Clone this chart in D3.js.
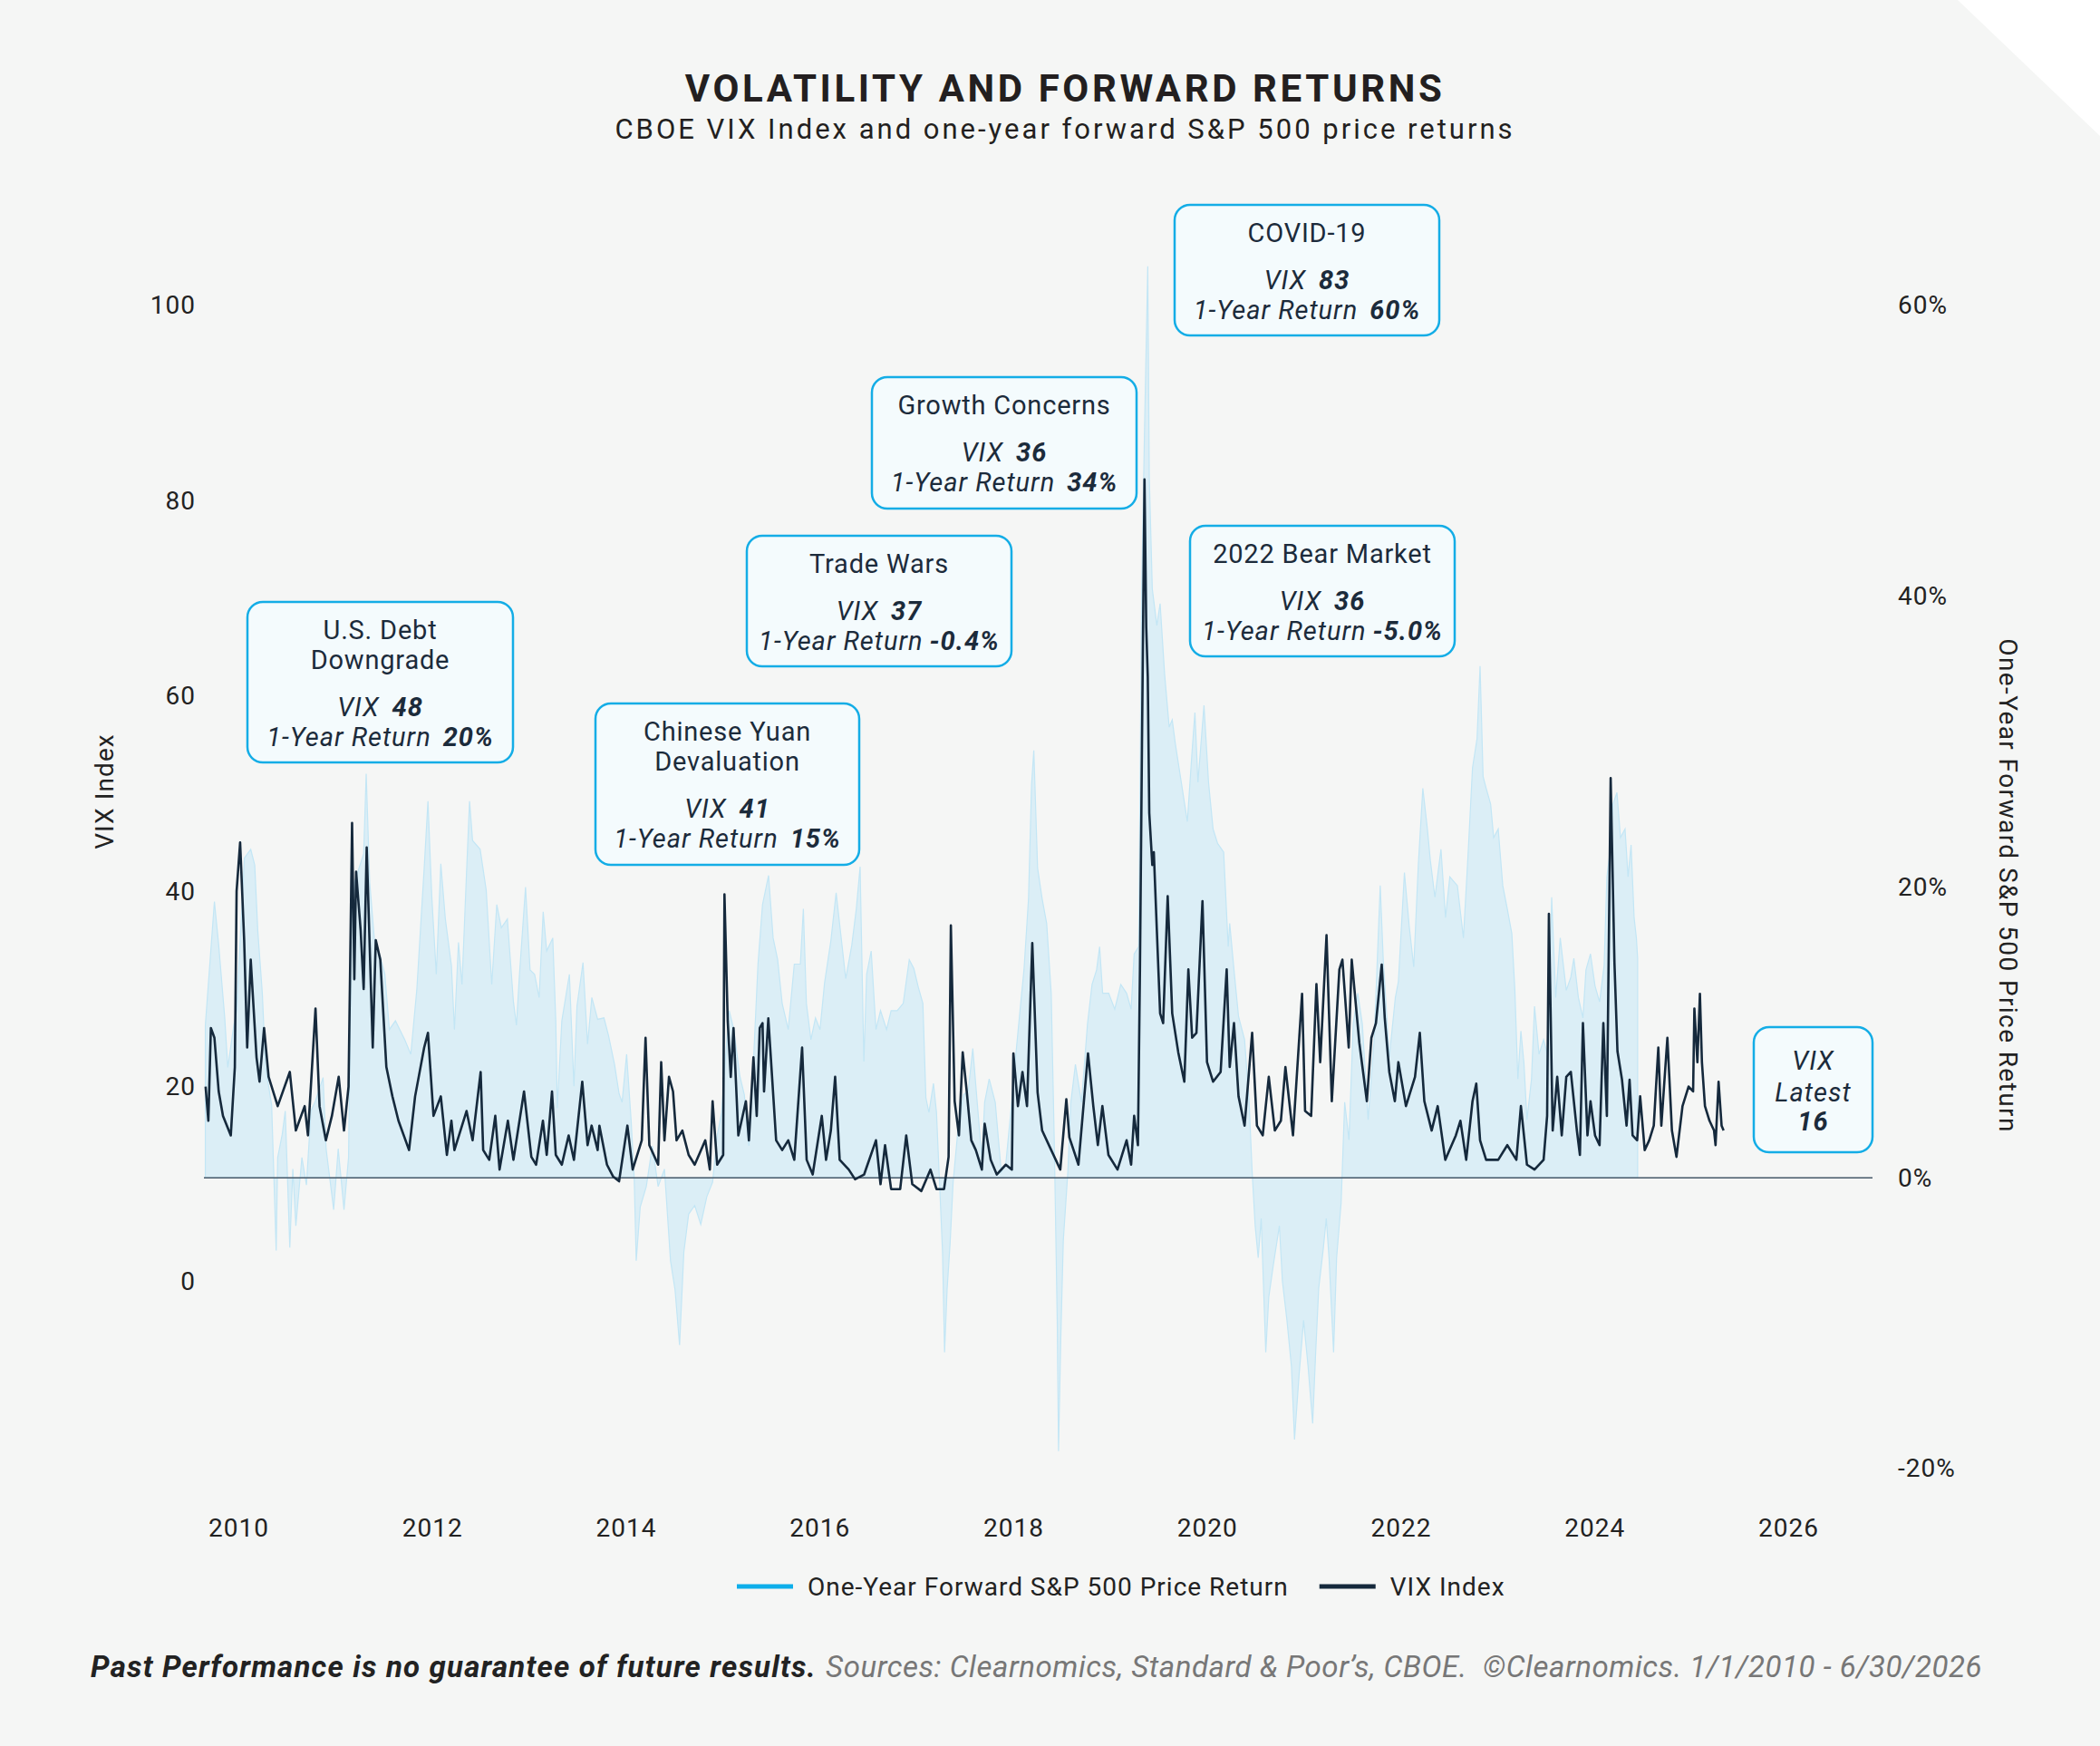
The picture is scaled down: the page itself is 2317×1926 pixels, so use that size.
<!DOCTYPE html>
<html>
<head>
<meta charset="utf-8">
<script src="https://cdn.jsdelivr.net/npm/d3@7"></script>
<style>
  html, body { margin: 0; padding: 0; background: #f5f6f5; }
  svg { display: block; font-family: Roboto, "Noto Sans", sans-serif; }
</style>
</head>
<body>
<div id="chart"></div>
<script>
// ---- data ----
const vixPoints = [
  ["2010-01-04",20.0],["2010-01-15",16.5],["2010-01-25",26.0],["2010-02-08",25.0],["2010-02-25",19.5],["2010-03-14",17.0],["2010-04-14",15.0],["2010-04-30",22.0],["2010-05-07",40.0],["2010-05-21",45.0],["2010-06-06",35.0],["2010-06-18",24.0],["2010-07-02",33.0],["2010-07-25",23.0],["2010-08-06",20.5],["2010-08-24",26.0],["2010-09-11",21.0],["2010-10-17",18.0],["2010-12-04",21.5],["2010-12-28",15.5],
  ["2011-02-01",18.0],["2011-02-14",15.0],["2011-03-16",28.0],["2011-04-01",18.0],["2011-04-26",14.5],["2011-05-20",17.0],["2011-06-16",21.0],["2011-07-07",15.5],["2011-07-25",20.0],["2011-08-08",47.0],["2011-08-17",31.0],["2011-08-24",42.0],["2011-09-11",36.0],["2011-09-23",30.0],["2011-10-05",44.5],["2011-10-29",24.0],["2011-11-10",35.0],["2011-11-28",33.0],["2011-12-22",22.0],
  ["2012-01-15",19.0],["2012-02-08",16.5],["2012-03-21",13.5],["2012-04-14",19.0],["2012-05-20",24.0],["2012-06-04",25.5],["2012-06-26",17.0],["2012-07-25",19.0],["2012-08-18",13.0],["2012-09-05",16.5],["2012-09-17",13.5],["2012-11-04",17.5],["2012-11-28",14.5],["2012-12-30",21.5],
  ["2013-01-09",13.5],["2013-02-02",12.5],["2013-02-26",17.0],["2013-03-15",11.5],["2013-04-17",16.5],["2013-05-09",12.5],["2013-06-20",19.5],["2013-07-19",12.8],["2013-08-07",12.0],["2013-09-03",16.5],["2013-09-18",13.0],["2013-10-09",19.5],["2013-10-24",13.0],["2013-11-17",12.0],["2013-12-14",15.0],
  ["2014-01-04",12.5],["2014-02-06",20.5],["2014-02-27",14.0],["2014-03-15",16.0],["2014-04-08",13.5],["2014-04-15",16.0],["2014-05-15",12.0],["2014-06-08",10.8],["2014-07-02",10.3],["2014-08-04",16.0],["2014-08-25",11.5],["2014-09-30",14.5],["2014-10-15",25.0],["2014-10-30",14.0],["2014-12-04",12.0],["2014-12-16",22.5],["2014-12-29",14.5],
  ["2015-01-16",21.0],["2015-02-01",19.5],["2015-02-15",14.5],["2015-03-10",15.5],["2015-04-04",13.0],["2015-04-28",12.0],["2015-06-09",14.5],["2015-06-27",11.5],["2015-07-08",18.5],["2015-07-26",12.0],["2015-08-19",13.0],["2015-08-24",39.7],["2015-09-06",26.7],["2015-09-18",21.0],["2015-09-29",26.0],["2015-10-18",15.0],["2015-11-17",18.5],["2015-11-29",14.5],["2015-12-17",23.0],["2015-12-30",17.0],
  ["2016-01-11",26.0],["2016-01-22",26.5],["2016-01-28",19.5],["2016-02-14",27.0],["2016-03-16",14.5],["2016-04-09",13.5],["2016-05-03",14.5],["2016-05-27",12.5],["2016-06-27",24.0],["2016-07-15",12.5],["2016-08-08",11.0],["2016-09-13",17.0],["2016-09-30",12.5],["2016-10-19",15.5],["2016-11-05",21.0],["2016-11-23",12.5],["2016-12-29",11.5],
  ["2017-01-23",10.5],["2017-02-28",11.0],["2017-04-16",14.5],["2017-05-04",10.0],["2017-05-22",14.0],["2017-06-15",9.5],["2017-07-21",9.5],["2017-08-14",15.0],["2017-09-07",10.0],["2017-10-13",9.3],["2017-11-18",11.5],["2017-12-12",9.5],
  ["2018-01-11",9.5],["2018-01-29",12.8],["2018-02-07",36.5],["2018-02-22",18.5],["2018-03-11",15.0],["2018-03-26",23.5],["2018-04-11",19.5],["2018-04-29",14.5],["2018-05-17",13.5],["2018-06-10",11.5],["2018-06-21",16.2],["2018-07-15",12.5],["2018-08-08",11.0],["2018-09-13",12.0],["2018-10-07",11.5],["2018-10-13",23.4],["2018-10-31",18.0],["2018-11-18",21.5],["2018-12-06",18.0],["2018-12-27",34.7],
  ["2019-01-17",19.4],["2019-02-04",15.5],["2019-03-12",13.5],["2019-04-17",11.5],["2019-05-11",18.7],["2019-05-23",14.8],["2019-06-28",12.0],["2019-08-05",23.4],["2019-08-26",18.0],["2019-09-13",14.0],["2019-10-01",18.0],["2019-10-25",13.0],["2019-11-30",11.5],
  ["2020-01-05",14.5],["2020-01-23",12.0],["2020-02-04",17.0],["2020-02-19",14.0],["2020-02-27",32.0],["2020-03-06",55.0],["2020-03-16",82.2],["2020-03-23",67.0],["2020-03-29",62.0],["2020-04-04",48.0],["2020-04-16",42.7],["2020-04-22",44.0],["2020-05-04",36.0],["2020-05-17",27.5],["2020-05-29",26.5],["2020-06-16",39.5],["2020-07-04",27.5],["2020-07-28",23.5],["2020-08-21",20.5],["2020-09-06",32.0],["2020-09-21",25.0],["2020-10-08",25.5],["2020-11-01",39.0],["2020-11-19",22.5],["2020-12-13",20.5],
  ["2021-01-12",21.5],["2021-02-05",32.0],["2021-02-17",22.0],["2021-03-06",26.5],["2021-03-24",19.0],["2021-04-17",16.0],["2021-05-17",25.5],["2021-06-05",16.0],["2021-06-28",15.0],["2021-07-22",21.0],["2021-08-15",15.5],["2021-09-08",16.5],["2021-09-26",22.0],["2021-10-26",15.0],["2021-12-01",29.5],["2021-12-13",17.5],
  ["2022-01-06",17.0],["2022-01-27",30.5],["2022-02-11",22.5],["2022-03-08",35.5],["2022-03-29",18.5],["2022-04-28",32.0],["2022-05-10",33.0],["2022-06-04",24.0],["2022-06-16",33.0],["2022-07-16",24.5],["2022-08-15",18.5],["2022-09-02",25.0],["2022-09-20",26.5],["2022-10-13",32.5],["2022-10-25",27.0],["2022-11-12",21.5],["2022-12-04",18.5],["2022-12-18",22.5],
  ["2023-01-17",18.0],["2023-02-22",21.0],["2023-03-13",25.5],["2023-03-31",18.5],["2023-04-29",15.5],["2023-05-23",18.0],["2023-06-22",12.5],["2023-08-03",15.0],["2023-08-21",16.5],["2023-09-13",12.5],["2023-10-08",18.5],["2023-10-23",20.3],["2023-11-07",14.5],["2023-12-01",12.5],
  ["2024-01-18",12.5],["2024-02-23",14.0],["2024-03-30",12.5],["2024-04-17",18.0],["2024-05-11",12.0],["2024-06-10",11.5],["2024-07-16",12.5],["2024-07-30",17.0],["2024-08-06",37.7],["2024-08-21",15.5],["2024-09-08",21.0],["2024-09-26",15.0],["2024-10-14",21.0],["2024-11-01",21.5],["2024-11-25",15.5],["2024-12-07",13.0],["2024-12-19",26.5],
  ["2025-01-06",15.0],["2025-01-18",18.5],["2025-02-05",15.0],["2025-02-23",14.0],["2025-03-10",26.5],["2025-03-24",17.0],["2025-04-08",51.6],["2025-04-23",32.7],["2025-05-05",23.6],["2025-05-23",20.7],["2025-06-10",16.0],["2025-06-22",20.7],["2025-07-04",15.0],["2025-07-22",14.5],["2025-08-03",19.0],["2025-08-21",13.5],["2025-09-08",14.5],["2025-09-26",16.0],["2025-10-14",24.0],["2025-10-26",16.0],["2025-11-19",25.0],["2025-12-07",15.5],["2025-12-25",12.8],
  ["2026-01-18",18.0],["2026-02-11",20.0],["2026-03-01",19.5],["2026-03-06",28.0],["2026-03-18",22.5],["2026-03-28",29.5],["2026-04-05",22.5],["2026-04-17",18.0],["2026-05-05",16.5],["2026-05-23",15.5],["2026-05-29",14.0],["2026-06-10",20.5],["2026-06-22",16.0],["2026-06-30",15.5]
];

const returnPoints = [
  ["2010-01-03",10.5],["2010-02-08",19.0],["2010-02-25",16.0],["2010-03-21",11.0],["2010-04-02",7.6],["2010-04-26",10.5],["2010-05-07",11.5],["2010-06-07",22.0],["2010-07-02",22.6],["2010-07-18",21.5],["2010-07-30",17.0],["2010-08-17",12.7],["2010-08-30",7.6],["2010-09-23",5.0],["2010-10-11",-5.0],["2010-10-17",1.4],["2010-11-04",3.0],["2010-11-16",4.6],["2010-12-04",-4.8],["2010-12-16",0.6],["2010-12-28",-3.3],
  ["2011-01-21",1.4],["2011-02-08",-0.5],["2011-02-26",4.6],["2011-03-16",5.3],["2011-04-15",6.9],["2011-04-27",2.0],["2011-05-27",-2.2],["2011-06-14",2.0],["2011-07-07",-2.2],["2011-07-25",1.4],["2011-08-06",17.8],["2011-08-17",20.3],["2011-09-23",22.3],["2011-10-03",27.8],["2011-10-17",20.3],["2011-11-04",16.5],["2011-11-28",15.2],["2011-12-16",14.0],
  ["2012-01-03",10.2],["2012-01-27",10.8],["2012-03-04",9.5],["2012-03-28",8.5],["2012-04-21",13.0],["2012-05-20",21.3],["2012-06-04",25.9],["2012-06-19",19.4],["2012-07-07",14.0],["2012-07-25",21.6],["2012-08-12",17.8],["2012-09-05",14.6],["2012-09-17",10.2],["2012-10-03",16.2],["2012-10-17",13.3],["2012-11-04",21.0],["2012-11-16",25.9],["2012-11-28",23.2],["2012-12-28",22.6],
  ["2013-01-21",19.8],["2013-02-12",13.3],["2013-03-04",18.8],["2013-03-22",17.2],["2013-04-15",17.8],["2013-05-09",12.1],["2013-05-21",10.5],["2013-06-02",14.0],["2013-06-26",20.0],["2013-07-14",14.3],["2013-08-01",14.0],["2013-08-19",12.4],["2013-09-04",18.3],["2013-09-18",15.6],["2013-10-12",16.5],["2013-10-24",10.8],["2013-10-30",4.8],["2013-11-17",10.8],["2013-12-17",14.0],
  ["2014-01-04",6.3],["2014-01-16",11.8],["2014-02-09",14.8],["2014-02-27",9.2],["2014-03-16",12.4],["2014-04-08",10.9],["2014-05-03",11.0],["2014-05-21",9.8],["2014-06-14",7.8],["2014-07-02",5.8],["2014-07-14",5.2],["2014-08-01",8.5],["2014-08-19",3.9],["2014-08-31",0.0],["2014-09-08",-5.7],["2014-09-24",-2.0],["2014-10-18",-0.6],["2014-11-11",2.2],["2014-12-04",-0.6],["2014-12-29",0.6],
  ["2015-01-22",-5.7],["2015-02-09",-7.7],["2015-02-27",-11.5],["2015-03-16",-5.1],["2015-04-04",-2.5],["2015-04-28",-1.9],["2015-05-22",-3.2],["2015-06-15",-1.3],["2015-07-08",-0.3],["2015-07-26",2.9],["2015-08-13",4.5],["2015-08-25",7.6],["2015-09-12",11.5],["2015-09-30",10.2],["2015-10-24",7.0],["2015-11-11",5.7],["2015-11-29",2.2],["2015-12-17",8.0],
  ["2016-01-04",14.7],["2016-01-22",18.8],["2016-02-15",20.8],["2016-03-04",16.5],["2016-03-22",15.0],["2016-04-09",12.0],["2016-05-03",10.2],["2016-05-27",14.7],["2016-06-20",14.7],["2016-07-02",18.5],["2016-07-14",12.0],["2016-08-01",9.5],["2016-08-19",11.0],["2016-09-06",10.2],["2016-09-24",13.4],["2016-10-19",16.3],["2016-11-09",19.6],["2016-11-29",16.5],["2016-12-17",13.7],
  ["2017-01-10",16.0],["2017-01-28",18.5],["2017-02-12",21.4],["2017-02-27",8.0],["2017-03-10",14.0],["2017-03-28",15.6],["2017-04-16",10.2],["2017-05-04",11.5],["2017-05-28",10.2],["2017-06-15",11.5],["2017-07-09",11.5],["2017-08-02",12.0],["2017-08-26",15.0],["2017-09-13",14.4],["2017-10-01",13.1],["2017-10-19",12.0],["2017-10-31",5.5],["2017-11-12",4.5],["2017-11-30",6.5],["2017-12-12",4.5],["2017-12-24",-0.3],
  ["2018-01-05",-5.1],["2018-01-13",-12.0],["2018-01-23",-7.7],["2018-02-04",-4.5],["2018-02-16",-0.3],["2018-03-05",2.9],["2018-03-29",5.7],["2018-04-17",6.0],["2018-05-05",8.9],["2018-05-23",5.1],["2018-06-10",1.3],["2018-06-21",5.2],["2018-07-09",6.8],["2018-08-02",5.2],["2018-08-26",0.4],["2018-09-13",1.0],["2018-10-01",4.2],["2018-10-19",7.8],["2018-11-06",11.1],["2018-11-24",14.3],["2018-12-12",19.2],["2018-12-24",27.0],
  ["2019-01-02",29.4],["2019-01-17",21.3],["2019-02-04",19.2],["2019-02-22",17.5],["2019-03-12",12.7],["2019-03-24",2.6],["2019-04-05",-9.9],["2019-04-10",-18.8],["2019-04-19",-11.0],["2019-04-29",-4.3],["2019-05-17",0.4],["2019-05-29",5.2],["2019-06-16",7.8],["2019-07-10",5.2],["2019-08-03",10.6],["2019-08-21",13.3],["2019-09-08",14.3],["2019-09-20",15.9],["2019-10-02",12.7],["2019-10-26",12.7],["2019-11-19",11.6],["2019-12-13",13.3],
  ["2020-01-05",12.7],["2020-01-23",11.6],["2020-02-04",15.4],["2020-02-22",15.9],["2020-03-05",40.5],["2020-03-16",51.3],["2020-03-29",62.7],["2020-04-04",48.2],["2020-04-16",40.5],["2020-05-04",38.0],["2020-05-17",39.5],["2020-06-04",34.6],["2020-06-22",31.0],["2020-07-04",31.5],["2020-07-16",29.9],["2020-08-09",27.2],["2020-09-02",24.5],["2020-09-21",29.4],["2020-10-02",32.0],["2020-10-14",27.2],["2020-11-07",32.5],["2020-11-25",27.2],["2020-12-13",24.0],["2020-12-31",23.0],
  ["2021-01-24",22.4],["2021-02-11",15.9],["2021-02-17",17.5],["2021-03-06",14.3],["2021-03-24",11.1],["2021-04-17",9.5],["2021-05-05",5.2],["2021-05-17",0.4],["2021-05-29",-3.3],["2021-06-10",-5.5],["2021-06-22",-2.8],["2021-07-10",-12.0],["2021-07-22",-8.2],["2021-08-09",-6.0],["2021-09-02",-3.3],["2021-09-14",-7.1],["2021-10-02",-9.8],["2021-10-20",-13.0],["2021-11-01",-18.0],["2021-11-19",-13.6],["2021-12-07",-9.8],["2021-12-25",-13.0],
  ["2022-01-12",-16.9],["2022-01-24",-12.0],["2022-02-05",-7.6],["2022-02-23",-4.9],["2022-03-07",-2.8],["2022-03-18",-5.5],["2022-04-05",-12.0],["2022-04-17",-5.5],["2022-05-05",-1.7],["2022-05-19",5.2],["2022-06-05",2.6],["2022-06-22",10.6],["2022-07-10",12.7],["2022-07-28",10.6],["2022-08-20",4.0],["2022-09-13",9.5],["2022-10-07",20.1],["2022-10-19",15.0],["2022-11-12",8.3],["2022-12-06",12.4],["2022-12-18",13.5],
  ["2023-01-11",21.0],["2023-01-30",17.3],["2023-02-17",14.5],["2023-03-07",21.5],["2023-03-25",26.8],["2023-04-12",24.0],["2023-04-24",21.8],["2023-05-12",19.3],["2023-06-05",22.6],["2023-06-23",17.9],["2023-07-10",20.7],["2023-08-09",20.1],["2023-09-02",16.5],["2023-09-20",22.1],["2023-10-08",28.2],["2023-10-26",30.2],["2023-11-07",35.2],["2023-11-19",27.6],["2023-12-01",26.8],["2023-12-19",25.7],["2023-12-31",23.4],
  ["2024-01-18",24.0],["2024-02-05",20.1],["2024-02-23",18.5],["2024-03-12",16.8],["2024-03-24",12.9],["2024-04-05",6.8],["2024-04-17",10.1],["2024-04-29",7.9],["2024-05-11",4.0],["2024-05-29",6.8],["2024-06-10",11.8],["2024-06-28",8.5],["2024-07-16",9.5],["2024-08-03",8.3],["2024-08-17",19.3],["2024-09-02",12.4],["2024-09-20",16.5],["2024-10-14",12.9],["2024-11-01",13.8],["2024-11-13",15.1],["2024-12-01",12.4],["2024-12-19",11.0],["2024-12-31",14.3],
  ["2025-01-18",15.4],["2025-02-05",13.2],["2025-02-23",12.1],["2025-03-13",14.6],["2025-03-24",20.7],["2025-04-05",22.4],["2025-04-17",25.7],["2025-05-03",26.5],["2025-05-17",23.4],["2025-06-04",24.0],["2025-06-16",20.7],["2025-06-28",22.9],["2025-07-10",17.9],["2025-07-19",16.5],["2025-07-24",15.1]
];

const vixTicks = [0, 20, 40, 60, 80, 100];
const returnTicks = [-20, 0, 20, 40, 60];
const yearLabels = ["2010", "2012", "2014", "2016", "2018", "2020", "2022", "2024", "2026"];

const events = [
  { title: ["U.S. Debt", "Downgrade"], vix: "48", ret: "20%" },
  { title: ["Chinese Yuan", "Devaluation"], vix: "41", ret: "15%" },
  { title: ["Trade Wars"], vix: "37", ret: "-0.4%" },
  { title: ["Growth Concerns"], vix: "36", ret: "34%" },
  { title: ["COVID-19"], vix: "83", ret: "60%" },
  { title: ["2022 Bear Market"], vix: "36", ret: "-5.0%" }
];
const latestVix = "16";

// ---- layout ----
const W = 2317, H = 1926;
// annotation boxes: [x, y, w, h]
const eventBoxes = [
  [273, 664, 293, 177],
  [657, 776, 291, 178],
  [824, 591, 292, 144],
  [962, 416, 292, 145],
  [1296, 226, 292, 144],
  [1313, 580, 292, 144]
];
const latestBox = [1935, 1133, 131, 138];

const navy = "#15293c";
const ink = "#222222";
const boxInk = "#1c2b3b";

const parse = d3.timeParse("%Y-%m-%d");
const vix = vixPoints.map(d => ({ date: parse(d[0]), value: d[1] })).sort((a, b) => a.date - b.date);
const rets = returnPoints.map(d => ({ date: parse(d[0]), value: d[1] })).sort((a, b) => a.date - b.date);

const svg = d3.select("#chart").append("svg")
  .attr("width", W)
  .attr("height", H);

svg.append("rect").attr("width", W).attr("height", H).attr("fill", "#f5f6f5");
svg.append("polygon").attr("points", "2160,0 2317,0 2317,150").attr("fill", "#ffffff");

// scales
const x = d3.scaleTime()
  .domain([new Date(2010, 0, 1), new Date(2026, 6, 1)])
  .range([226, 1902]);
const xLabel = d3.scalePoint().domain(yearLabels).range([263, 1973]);
const yVix = d3.scaleLinear().domain([0, 100]).range([1414, 337]);
const yRet = d3.scaleLinear().domain([-20, 60]).range([1620, 337]);

// title
svg.append("text")
  .attr("x", 1175).attr("y", 112)
  .attr("text-anchor", "middle")
  .attr("font-size", 42).attr("font-weight", 700)
  .attr("letter-spacing", 3.6)
  .attr("fill", "#231f20")
  .text("VOLATILITY AND FORWARD RETURNS");

svg.append("text")
  .attr("x", 1175).attr("y", 153)
  .attr("text-anchor", "middle")
  .attr("font-size", 31)
  .attr("letter-spacing", 3.0)
  .attr("fill", "#231f20")
  .text("CBOE VIX Index and one-year forward S&P 500 price returns");

// return area
const area = d3.area()
  .x(d => x(d.date))
  .y0(yRet(0))
  .y1(d => yRet(d.value));

svg.append("path")
  .datum(rets)
  .attr("d", area)
  .attr("fill", "#dbeef6")
  .attr("stroke", "#c3e6f5")
  .attr("stroke-width", 1.2);

// zero line
svg.append("line")
  .attr("x1", 225).attr("x2", 2066)
  .attr("y1", yRet(0)).attr("y2", yRet(0))
  .attr("stroke", "#465868")
  .attr("stroke-width", 1.6);

// VIX line
const line = d3.line()
  .x(d => x(d.date))
  .y(d => yVix(d.value));

svg.append("path")
  .datum(vix)
  .attr("d", line)
  .attr("fill", "none")
  .attr("stroke", navy)
  .attr("stroke-width", 2.6)
  .attr("stroke-linejoin", "round");

// axes
function styleAxis(g) {
  g.select(".domain").remove();
  g.selectAll("line").remove();
  g.selectAll("text")
    .attr("font-size", 28)
    .attr("font-family", "Roboto, sans-serif")
    .attr("letter-spacing", 1)
    .attr("fill", ink);
}

svg.append("g")
  .attr("transform", "translate(224,0)")
  .call(d3.axisLeft(yVix).tickValues(vixTicks).tickSize(0).tickPadding(8))
  .call(styleAxis);

svg.append("g")
  .attr("transform", "translate(2086,0)")
  .call(d3.axisRight(yRet).tickValues(returnTicks).tickSize(0).tickPadding(8)
    .tickFormat(d => d + "%"))
  .call(styleAxis);

svg.append("g")
  .attr("transform", "translate(0,1685)")
  .call(d3.axisBottom(xLabel).tickSize(0).tickPadding(0))
  .call(styleAxis)
  .call(g => g.selectAll("text").attr("y", 0).attr("dy", "0.35em"));

// axis titles
svg.append("text")
  .attr("transform", "translate(115,873) rotate(-90)")
  .attr("text-anchor", "middle").attr("dy", "0.35em")
  .attr("font-size", 28).attr("letter-spacing", 1.1).attr("fill", ink)
  .text("VIX Index");

svg.append("text")
  .attr("transform", "translate(2216,977) rotate(90)")
  .attr("text-anchor", "middle").attr("dy", "0.35em")
  .attr("font-size", 28).attr("letter-spacing", 1.4).attr("fill", ink)
  .text("One-Year Forward S&P 500 Price Return");

// annotation boxes
function drawBox(b) {
  return svg.append("rect")
    .attr("x", b[0]).attr("y", b[1])
    .attr("width", b[2]).attr("height", b[3])
    .attr("rx", 17).attr("ry", 17)
    .attr("fill", "#f4fbfd")
    .attr("stroke", "#14ade6")
    .attr("stroke-width", 2.5);
}

events.forEach((ev, i) => {
  const b = eventBoxes[i];
  const cx = b[0] + b[2] / 2;
  drawBox(b);
  let ly = b[1] + 31;
  ev.title.forEach((t, k) => {
    svg.append("text")
      .attr("x", cx).attr("y", ly + k * 33)
      .attr("text-anchor", "middle").attr("dy", "0.35em")
      .attr("font-size", 29).attr("letter-spacing", 0.8).attr("fill", boxInk)
      .text(t);
  });
  ly += (ev.title.length - 1) * 33 + 52;
  const t1 = svg.append("text")
    .attr("x", cx).attr("y", ly)
    .attr("text-anchor", "middle").attr("dy", "0.35em")
    .attr("font-size", 29).attr("letter-spacing", 1).attr("fill", boxInk).attr("font-style", "italic");
  t1.append("tspan").text("VIX");
  t1.append("tspan").attr("dx", 14).attr("font-weight", 700).text(ev.vix);

  const t2 = svg.append("text")
    .attr("x", cx).attr("y", ly + 33)
    .attr("text-anchor", "middle").attr("dy", "0.35em")
    .attr("font-size", 29).attr("letter-spacing", 1).attr("fill", boxInk).attr("font-style", "italic");
  t2.append("tspan").text("1-Year Return");
  t2.append("tspan").attr("dx", ev.ret.startsWith("-") ? 7 : 13)
    .attr("font-weight", 700).text(ev.ret);
});

// latest VIX box
drawBox(latestBox);
const lcx = latestBox[0] + latestBox[2] / 2;
[["VIX", 400, 37], ["Latest", 400, 72], [latestVix, 700, 104]].forEach(r => {
  svg.append("text")
    .attr("x", lcx).attr("y", latestBox[1] + r[2])
    .attr("text-anchor", "middle").attr("dy", "0.35em")
    .attr("font-size", 29).attr("font-style", "italic").attr("letter-spacing", 1)
    .attr("font-weight", r[1]).attr("fill", boxInk)
    .text(r[0]);
});

// legend
const legendItems = [
  { label: "One-Year Forward S&P 500 Price Return", color: "#0eaeea" },
  { label: "VIX Index", color: navy }
];
let lx = 813;
legendItems.forEach(it => {
  svg.append("line")
    .attr("x1", lx).attr("x2", lx + 62)
    .attr("y1", 1750).attr("y2", 1750)
    .attr("stroke", it.color).attr("stroke-width", 5);
  const t = svg.append("text")
    .attr("x", lx + 78).attr("y", 1750).attr("dy", "0.35em")
    .attr("font-size", 28).attr("letter-spacing", 1).attr("fill", ink)
    .text(it.label);
  lx += 78 + t.node().getComputedTextLength() + 34;
});

// footer
const foot = svg.append("text")
  .attr("x", 100).attr("y", 1850)
  .attr("font-size", 33).attr("font-style", "italic");
foot.append("tspan").attr("font-weight", 700).attr("fill", ink)
  .attr("letter-spacing", 1.2)
  .text("Past Performance is no guarantee of future results.");
foot.append("tspan").attr("fill", "#777777").attr("dx", 10)
  .attr("letter-spacing", 0.55)
  .text("Sources: Clearnomics, Standard & Poor\u2019s, CBOE.\u00a0\u00a0\u00a9Clearnomics. 1/1/2010 - 6/30/2026");
</script>
</body>
</html>
